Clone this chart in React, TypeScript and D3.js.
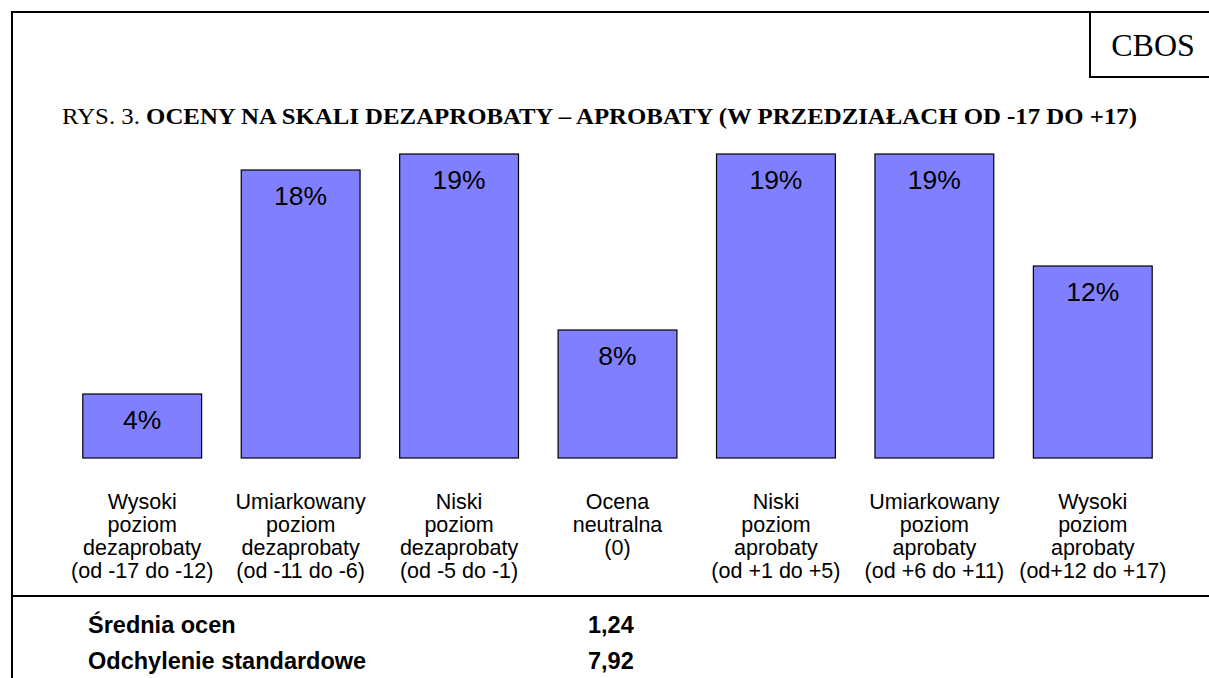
import React, { useEffect, useRef } from "react";
import * as d3 from "d3";

const categories = [
  ["Wysoki", "poziom", "dezaprobaty", "(od -17 do -12)"],
  ["Umiarkowany", "poziom", "dezaprobaty", "(od -11 do -6)"],
  ["Niski", "poziom", "dezaprobaty", "(od -5 do -1)"],
  ["Ocena", "neutralna", "(0)"],
  ["Niski", "poziom", "aprobaty", "(od +1 do +5)"],
  ["Umiarkowany", "poziom", "aprobaty", "(od +6 do +11)"],
  ["Wysoki", "poziom", "aprobaty", "(od+12 do +17)"],
];
const values = [4, 18, 19, 8, 19, 19, 12];
const statLabels = ["Średnia ocen", "Odchylenie standardowe"];
const statValues = ["1,24", "7,92"];

export default function App() {
  const svgRef = useRef<SVGSVGElement | null>(null);

  useEffect(() => {
    const width = 1209;
    const height = 678;
    const svg = d3.select(svgRef.current).attr("width", width).attr("height", height);
    svg.selectAll("*").remove();

    const sans = "'Liberation Sans', Arial, sans-serif";
    const serif = "'Liberation Serif', 'Times New Roman', serif";

    // --- frame ---
    const line = (x1: number, y1: number, x2: number, y2: number) =>
      svg.append("line").attr("x1", x1).attr("y1", y1).attr("x2", x2).attr("y2", y2)
        .attr("stroke", "#000").attr("stroke-width", 2);
    line(11, 12, width, 12);
    line(12, 11, 12, height);
    line(1090, 12, 1090, 78);
    line(1089, 77, width, 77);
    line(11, 596, width, 596);

    svg.append("text").attr("x", 1153).attr("y", 56).attr("text-anchor", "middle")
      .attr("font-family", serif).attr("font-size", 32).text("CBOS");

    // --- title ---
    const title = svg.append("text").attr("x", 62).attr("y", 124)
      .attr("font-family", serif).attr("font-size", 23)
      .attr("textLength", 1075).attr("lengthAdjust", "spacingAndGlyphs");
    title.append("tspan").text("RYS. 3. ");
    title.append("tspan").attr("font-weight", "bold")
      .text("OCENY NA SKALI DEZAPROBATY – APROBATY (W PRZEDZIAŁACH OD -17 DO +17)");

    // --- bars ---
    const x = d3.scaleBand<number>().domain(d3.range(values.length))
      .range([63, 1172]).paddingInner(0.25).paddingOuter(0.125);
    const y = d3.scaleLinear().domain([0, 19]).range([458, 154]);

    const g = svg.append("g");
    g.selectAll("rect").data(values).join("rect")
      .attr("x", (_, i) => x(i)!)
      .attr("y", d => y(d))
      .attr("width", x.bandwidth())
      .attr("height", d => y(0) - y(d))
      .attr("fill", "#8080ff")
      .attr("stroke", "#000")
      .attr("stroke-width", 1.2);

    g.selectAll("text.val").data(values).join("text")
      .attr("class", "val")
      .attr("x", (_, i) => x(i)! + x.bandwidth() / 2)
      .attr("y", d => y(d) + 35)
      .attr("text-anchor", "middle")
      .attr("font-family", sans).attr("font-size", 26.5)
      .text(d => `${d}%`);

    // --- category labels ---
    categories.forEach((lines, i) => {
      const cx = x(i)! + x.bandwidth() / 2;
      const t = svg.append("text")
        .attr("text-anchor", "middle")
        .attr("font-family", sans).attr("font-size", 21.5);
      lines.forEach((l, j) => {
        t.append("tspan").attr("x", cx).attr("y", 509 + j * 23).text(l);
      });
    });

    // --- stats ---
    statLabels.forEach((s, i) => {
      svg.append("text").attr("x", 88).attr("y", 633 + i * 36)
        .attr("font-family", sans).attr("font-size", 23.5).attr("font-weight", "bold").text(s);
      svg.append("text").attr("x", 588).attr("y", 633 + i * 36)
        .attr("font-family", sans).attr("font-size", 23.5).attr("font-weight", "bold").text(statValues[i]);
    });
  }, []);

  return (
    <svg ref={svgRef} style={{ position: "absolute", left: 0, top: 0, display: "block" }}></svg>
  );
}
